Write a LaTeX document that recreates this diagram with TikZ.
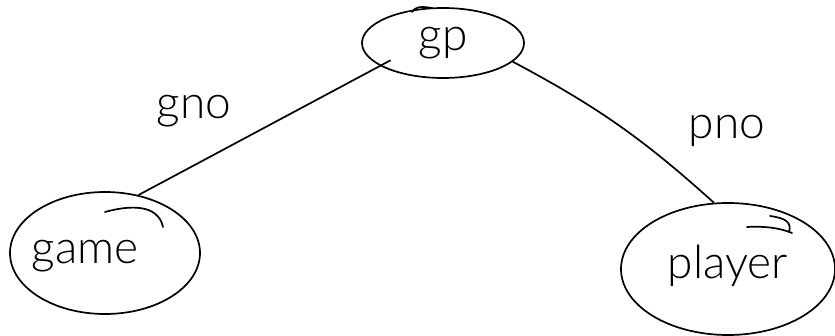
\documentclass[tikz,border=0pt]{standalone}
\usepackage{fontspec}
\newfontfamily\hand{Lato Light}
\usetikzlibrary{shapes.geometric}
\begin{document}
\begin{tikzpicture}[x=1pt,y=-1pt,
  ell/.style={draw, ellipse, line width=1.7pt, inner sep=0pt},
  lbl/.style={font=\hand\fontsize{46}{50}\selectfont, inner sep=0pt},
  conn/.style={line width=1.7pt},
  pen/.style={line width=1.7pt, line cap=round}]
\fill[white] (0,0) rectangle (835,336);
\useasboundingbox (0,0) rectangle (835,336);
\node[ell, minimum width=162pt, minimum height=70pt,
      label={[lbl]center:gp}] (gp) at (443,43) {};
\node[ell, minimum width=190pt, minimum height=122pt,
      label={[lbl,xshift=-20pt,yshift=-3pt]center:game}] (game) at (105,253) {};
\node[ell, minimum width=214pt, minimum height=132pt,
      label={[lbl,yshift=3pt]center:player}] (player) at (728,269) {};
\draw[conn, shorten <=-12pt] (gp.200) -- (game.60);
\draw[conn] (gp.345) to[bend left=7] (player.102);
\node[lbl] (gno) at (194,111) {gno};
\node[lbl] (pno) at (727,131) {pno};
% hand-drawn overlaps of the ellipse strokes
\draw[pen] (412,12) .. controls (415,7) and (420,6) .. (432,8);
\draw[pen] (105,212) .. controls (130,205) and (158,204) .. (163,227);
\draw[pen] (747,227) .. controls (765,226) and (780,228) .. (792,233);
\draw[pen] (770,216) .. controls (785,218) and (792,222) .. (789,232);
\end{tikzpicture}
\end{document}
